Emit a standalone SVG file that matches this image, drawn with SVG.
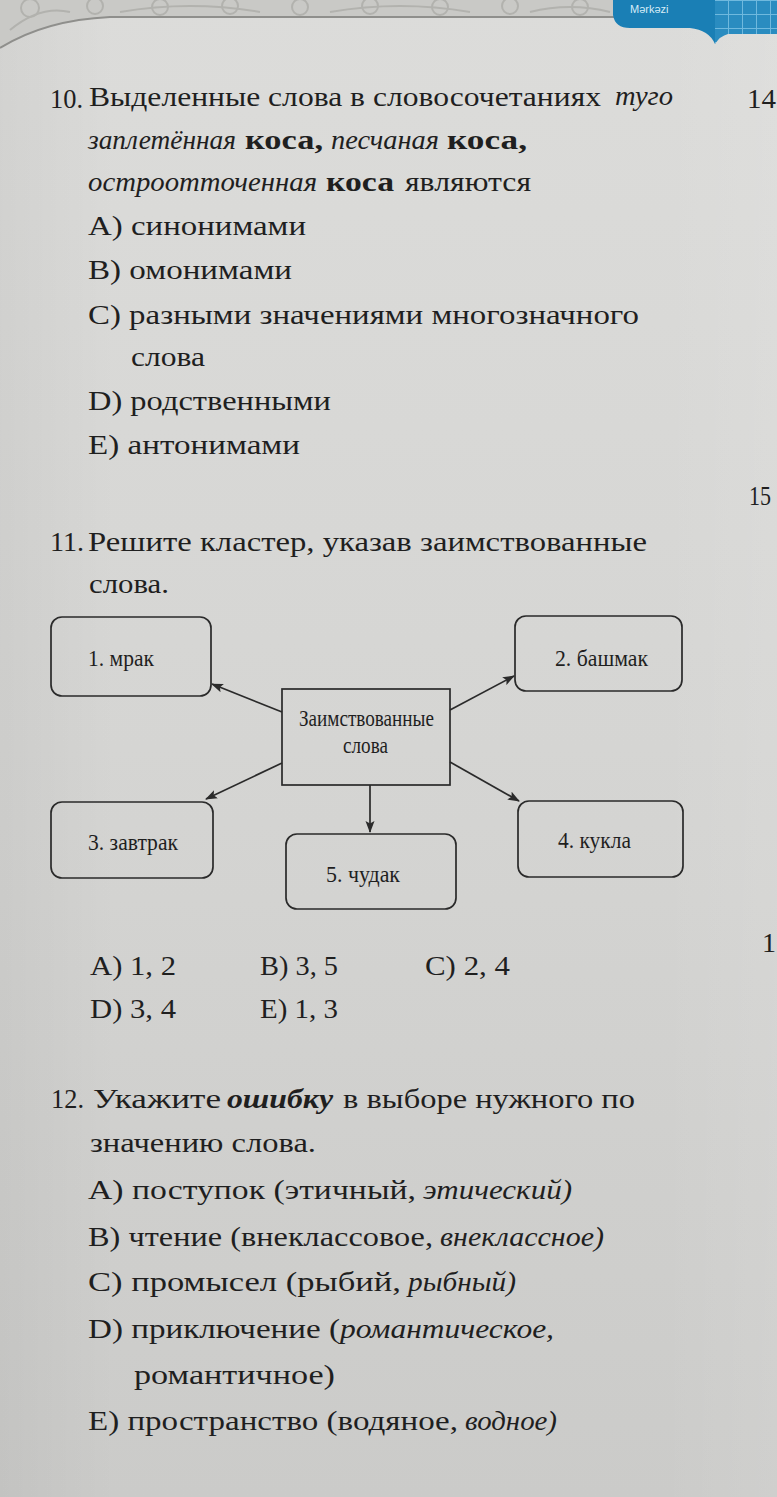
<svg xmlns="http://www.w3.org/2000/svg" width="777" height="1497" viewBox="0 0 777 1497">
<defs>
<linearGradient id="bg" x1="0" y1="0" x2="0" y2="1">
<stop offset="0" stop-color="#dcdcda"/>
<stop offset="0.5" stop-color="#d5d5d3"/>
<stop offset="1" stop-color="#cbcbc9"/>
</linearGradient>
<linearGradient id="side" x1="0" y1="0" x2="1" y2="0">
<stop offset="0" stop-color="#000" stop-opacity="0.04"/>
<stop offset="0.15" stop-color="#000" stop-opacity="0"/>
<stop offset="0.85" stop-color="#fff" stop-opacity="0"/>
<stop offset="1" stop-color="#fff" stop-opacity="0.08"/>
</linearGradient>
<pattern id="grid" width="14" height="14" patternUnits="userSpaceOnUse">
<rect width="14" height="14" fill="#2a8cc0"/>
<path d="M0,0.5H14M0.5,0V14" stroke="#6fb9de" stroke-width="1"/>
</pattern>
<marker id="ah" viewBox="0 0 12 10" refX="11" refY="5" markerWidth="12" markerHeight="10" markerUnits="userSpaceOnUse" orient="auto">
<path d="M0,0.5 L12,5 L0,9.5 L2.5,5 Z" fill="#2b2b2b"/>
</marker>
<style>
.t{font-family:"Liberation Serif","DejaVu Serif",serif;font-size:28px;fill:#1f1f1f}
.i{font-style:italic}
.b{font-weight:bold}
.bt{font-family:"Liberation Serif","DejaVu Serif",serif;font-size:23px;fill:#1f1f1f}
.box{fill:none;stroke:#2a2a2a;stroke-width:1.7}
.con{stroke:#2a2a2a;stroke-width:1.7;fill:none;marker-end:url(#ah)}
</style>
</defs>
<rect width="777" height="1497" fill="url(#bg)"/>
<rect width="777" height="1497" fill="url(#side)"/>

<g id="header">
<path d="M0,0 H625 V17 H110 Q45,20 0,48 Z" fill="#c9c9c6"/>
<g fill="none" stroke="#b2b2ae" stroke-width="2">
<circle cx="30" cy="8" r="9"/><circle cx="95" cy="6" r="8"/><circle cx="160" cy="7" r="8"/>
<circle cx="230" cy="6" r="8"/><circle cx="300" cy="7" r="8"/><circle cx="370" cy="6" r="8"/>
<circle cx="440" cy="7" r="8"/><circle cx="510" cy="6" r="8"/><circle cx="580" cy="7" r="8"/>
<path d="M10,30 Q40,5 70,12 M120,12 Q190,0 260,12 M330,12 Q400,0 470,12 M530,12 Q570,2 610,12"/>
</g>
<path d="M0,48 Q45,20 110,17 H625" fill="none" stroke="#8f8f8c" stroke-width="2"/>
<path d="M715,0 H777 V34 H728 Q720,36 715,44 Z" fill="url(#grid)"/>
<path d="M613,0 H715 V44 Q709,30 690,28 H630 Q615,28 613,15 Z" fill="#1a7fb5"/>
<text x="630" y="13" font-family="Liberation Sans, Arial, sans-serif" font-size="11" fill="#d6ecf7">Mərkəzi</text>
</g>

<g id="q10">
<text class="t" x="50" y="108" textLength="33" lengthAdjust="spacingAndGlyphs">10.</text>
<text class="t" x="89" y="106" textLength="512" lengthAdjust="spacingAndGlyphs">Выделенные слова в словосочетаниях</text>
<text class="t i" x="615" y="105" textLength="58" lengthAdjust="spacingAndGlyphs">туго</text>
<text class="t i" x="88" y="149" textLength="148" lengthAdjust="spacingAndGlyphs">заплетённая</text>
<text class="t b" x="245" y="149" textLength="78" lengthAdjust="spacingAndGlyphs">коса,</text>
<text class="t i" x="331" y="149" textLength="108" lengthAdjust="spacingAndGlyphs">песчаная</text>
<text class="t b" x="447" y="149" textLength="80" lengthAdjust="spacingAndGlyphs">коса,</text>
<text class="t i" x="88" y="191" textLength="229" lengthAdjust="spacingAndGlyphs">остроотточенная</text>
<text class="t b" x="326" y="191" textLength="68" lengthAdjust="spacingAndGlyphs">коса</text>
<text class="t" x="405" y="191" textLength="126" lengthAdjust="spacingAndGlyphs">являются</text>
<text class="t" x="88" y="235" textLength="218" lengthAdjust="spacingAndGlyphs">A) синонимами</text>
<text class="t" x="88" y="279" textLength="204" lengthAdjust="spacingAndGlyphs">B) омонимами</text>
<text class="t" x="88" y="324" textLength="551" lengthAdjust="spacingAndGlyphs">C) разными значениями многозначного</text>
<text class="t" x="131" y="366" textLength="74" lengthAdjust="spacingAndGlyphs">слова</text>
<text class="t" x="88" y="410" textLength="243" lengthAdjust="spacingAndGlyphs">D) родственными</text>
<text class="t" x="88" y="454" textLength="212" lengthAdjust="spacingAndGlyphs">E) антонимами</text>
</g>

<g id="pagenums">
<text class="t" x="747" y="108" textLength="29" lengthAdjust="spacingAndGlyphs">14</text>
<text class="t" x="749" y="505" textLength="22" lengthAdjust="spacingAndGlyphs">15</text>
<text class="t" x="762" y="952">1</text>
</g>

<g id="q11">
<text class="t" x="50" y="551" textLength="34" lengthAdjust="spacingAndGlyphs">11.</text>
<text class="t" x="88" y="551" textLength="559" lengthAdjust="spacingAndGlyphs">Решите кластер, указав заимствованные</text>
<text class="t" x="89" y="593" textLength="80" lengthAdjust="spacingAndGlyphs">слова.</text>
</g>

<g id="connectors">
<line class="con" x1="282" y1="712" x2="212" y2="684"/>
<line class="con" x1="450" y1="710" x2="514" y2="676"/>
<line class="con" x1="282" y1="763" x2="206" y2="799"/>
<line class="con" x1="450" y1="762" x2="519" y2="801"/>
<line class="con" x1="370" y1="785" x2="370" y2="832"/>
</g>

<g id="node-center">
<rect class="box" x="282" y="689" width="168" height="96"/>
<text class="bt" x="299" y="726" textLength="135" lengthAdjust="spacingAndGlyphs">Заимствованные</text>
<text class="bt" x="343" y="753" textLength="45" lengthAdjust="spacingAndGlyphs">слова</text>
</g>
<g id="node-1">
<rect class="box" x="51" y="617" width="160" height="79" rx="11"/>
<text class="bt" x="88" y="666" textLength="66" lengthAdjust="spacingAndGlyphs">1. мрак</text>
</g>
<g id="node-2">
<rect class="box" x="515" y="616" width="167" height="75" rx="11"/>
<text class="bt" x="555" y="666" textLength="93" lengthAdjust="spacingAndGlyphs">2. башмак</text>
</g>
<g id="node-3">
<rect class="box" x="51" y="802" width="162" height="76" rx="11"/>
<text class="bt" x="88" y="850" textLength="90" lengthAdjust="spacingAndGlyphs">3. завтрак</text>
</g>
<g id="node-4">
<rect class="box" x="518" y="801" width="165" height="76" rx="11"/>
<text class="bt" x="558" y="848" textLength="73" lengthAdjust="spacingAndGlyphs">4. кукла</text>
</g>
<g id="node-5">
<rect class="box" x="286" y="834" width="170" height="75" rx="11"/>
<text class="bt" x="326" y="882" textLength="74" lengthAdjust="spacingAndGlyphs">5. чудак</text>
</g>

<g id="q11-answers">
<text class="t" x="90" y="975" textLength="86" lengthAdjust="spacingAndGlyphs">A) 1, 2</text>
<text class="t" x="260" y="975" textLength="78" lengthAdjust="spacingAndGlyphs">B) 3, 5</text>
<text class="t" x="425" y="975" textLength="85" lengthAdjust="spacingAndGlyphs">C) 2, 4</text>
<text class="t" x="90" y="1018" textLength="86" lengthAdjust="spacingAndGlyphs">D) 3, 4</text>
<text class="t" x="260" y="1018" textLength="78" lengthAdjust="spacingAndGlyphs">E) 1, 3</text>
</g>

<g id="q12">
<text class="t" x="51" y="1108" textLength="33" lengthAdjust="spacingAndGlyphs">12.</text>
<text class="t" x="93" y="1108" textLength="128" lengthAdjust="spacingAndGlyphs">Укажите</text>
<text class="t i b" x="227" y="1108" textLength="106" lengthAdjust="spacingAndGlyphs">ошибку</text>
<text class="t" x="343" y="1108" textLength="292" lengthAdjust="spacingAndGlyphs">в выборе нужного по</text>
<text class="t" x="90" y="1152" textLength="226" lengthAdjust="spacingAndGlyphs">значению слова.</text>
<text class="t" x="88" y="1199" textLength="328" lengthAdjust="spacingAndGlyphs">A) поступок (этичный,</text>
<text class="t i" x="423" y="1199" textLength="149" lengthAdjust="spacingAndGlyphs">этический)</text>
<text class="t" x="88" y="1246" textLength="345" lengthAdjust="spacingAndGlyphs">B) чтение (внеклассовое,</text>
<text class="t i" x="440" y="1246" textLength="164" lengthAdjust="spacingAndGlyphs">внеклассное)</text>
<text class="t" x="88" y="1291" textLength="313" lengthAdjust="spacingAndGlyphs">C) промысел (рыбий,</text>
<text class="t i" x="408" y="1291" textLength="108" lengthAdjust="spacingAndGlyphs">рыбный)</text>
<text class="t" x="88" y="1338" textLength="252" lengthAdjust="spacingAndGlyphs">D) приключение (</text>
<text class="t i" x="340" y="1338" textLength="214" lengthAdjust="spacingAndGlyphs">романтическое,</text>
<text class="t" x="134" y="1384" textLength="201" lengthAdjust="spacingAndGlyphs">романтичное)</text>
<text class="t" x="88" y="1430" textLength="370" lengthAdjust="spacingAndGlyphs">E) пространство (водяное,</text>
<text class="t i" x="465" y="1430" textLength="92" lengthAdjust="spacingAndGlyphs">водное)</text>
</g>
</svg>
